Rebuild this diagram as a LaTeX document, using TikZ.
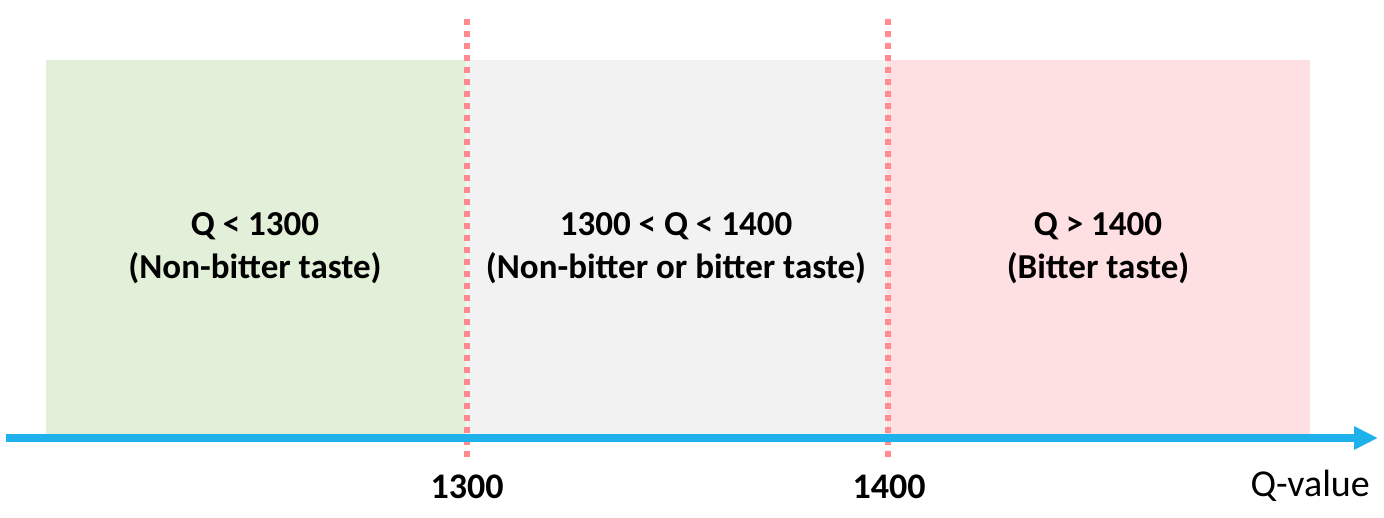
\documentclass[tikz,border=0pt]{standalone}
\usepackage{fontspec}
\setmainfont{Carlito}
\usetikzlibrary{arrows.meta}
\definecolor{zgreen}{HTML}{E2EFD9}
\definecolor{zgrey}{HTML}{F2F2F2}
\definecolor{zpink}{HTML}{FFE0E2}
\definecolor{zblue}{HTML}{1EB1EC}
\definecolor{zred}{HTML}{FF8A90}
\tikzset{
  lbl/.style={font=\fontsize{35}{43}\selectfont\bfseries,align=center,text=black},
  ticklbl/.style={font=\fontsize{36}{40}\selectfont\bfseries,text=black,inner sep=0pt},
  divider/.style={draw=zred,line width=6pt,dash pattern=on 6pt off 6pt},
  axis/.style={draw=zblue,line width=8pt,-{Triangle[length=24pt,width=22pt]}}
}
\begin{document}
\begin{tikzpicture}[x=1pt,y=-1pt]
\useasboundingbox (0,0) rectangle (1384,518);
\fill[zgreen] (46,60) rectangle (465,436);
\fill[zgrey] (465,60) rectangle (887,436);
\fill[zpink] (887,60) rectangle (1310,436);
\coordinate (d1t) at (467,19);
\coordinate (d1b) at (467,458);
\coordinate (d2t) at (888,19);
\coordinate (d2b) at (888,458);
\draw[divider] (d1t) -- (d1b);
\draw[divider] (d2t) -- (d2b);
\coordinate (a0) at (6,438);
\coordinate (a1) at (1378,438);
\draw[axis] (a0) -- (a1);
\node[lbl] (z1) at (255,248) {Q < 1300\\(Non-bitter taste)};
\node[lbl] (z2) at (676,248) {1300 < Q < 1400\\(Non-bitter or bitter taste)};
\node[lbl] (z3) at (1098,248) {Q > 1400\\(Bitter taste)};
\node[ticklbl] (t1) at (467,487) {1300};
\node[ticklbl] (t2) at (889,487) {1400};
\node[font=\fontsize{38}{40}\selectfont,text=black,inner sep=0pt,anchor=east] (qv) at (1370,486) {Q-value};
\end{tikzpicture}
\end{document}
